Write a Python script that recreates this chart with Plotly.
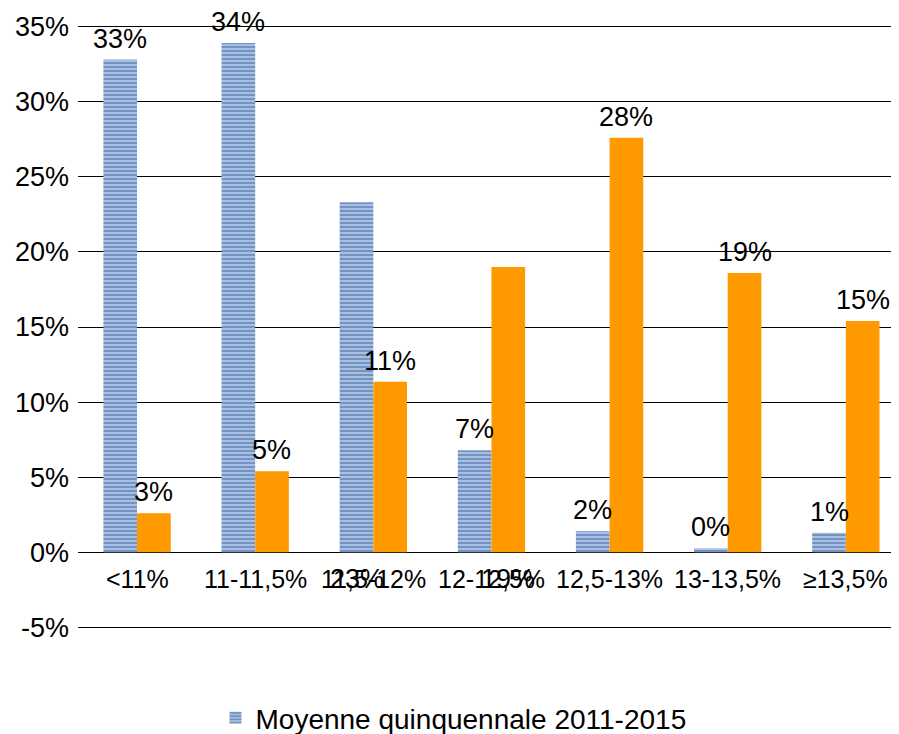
import plotly.graph_objects as go

categories = ["<11%", "11-11,5%", "11,5-12%", "12-12,5%", "12,5-13%", "13-13,5%", "≥13,5%"]
moyenne = [32.8, 33.9, 23.3, 6.8, 1.4, 0.27, 1.3]
recent = [2.6, 5.4, 11.35, 19.0, 27.6, 18.6, 15.4]
moyenne_labels = ["33%", "34%", "23%", "7%", "2%", "0%", "1%"]
recent_labels = ["3%", "5%", "11%", "19%", "28%", "19%", "15%"]
# labels that Excel dropped under the axis
moyenne_below = [False, False, True, False, False, False, False]
recent_below = [False, False, False, True, False, False, False]
y_ticks = [-5, 0, 5, 10, 15, 20, 25, 30, 35]
y_ticktext = ["-5%", "0%", "5%", "10%", "15%", "20%", "25%", "30%", "35%"]

FONT = "Liberation Sans, Arial, sans-serif"
BAR_HALF = 16.8

fig = go.Figure()
fig.add_trace(go.Bar(
    x=categories, y=moyenne, name="Moyenne quinquennale 2011-2015",
    marker=dict(color="#A9BFE0", line=dict(width=0),
                pattern=dict(shape="-", fgcolor="#3F68AA", bgcolor="#A9BFE0",
                             size=4, solidity=0.5)),
))
fig.add_trace(go.Bar(
    x=categories, y=recent, name="recent", showlegend=False,
    marker=dict(color="#FF9900", line=dict(width=0)),
))

annotations = []
for serie, labels, below, shift in [(moyenne, moyenne_labels, moyenne_below, -BAR_HALF),
                                    (recent, recent_labels, recent_below, BAR_HALF)]:
    for c, v, t, b in zip(categories, serie, labels, below):
        if b:
            annotations.append(dict(x=c, y=0, text=t, showarrow=False, xshift=shift,
                                    yanchor="top", yshift=-10, font=dict(size=27)))
        else:
            annotations.append(dict(x=c, y=v, text=t, showarrow=False, xshift=shift,
                                    yanchor="bottom", yshift=4, font=dict(size=27)))

# category labels sit on the zero line, not at the bottom of the plot
for c in categories:
    annotations.append(dict(x=c, y=0, text=c, showarrow=False, yanchor="top",
                            yshift=-11, font=dict(size=25)))

# page body has an 8px margin, so the figure is a bit smaller than the window
fig.update_layout(
    width=891, height=726,
    margin=dict(l=70, r=0, t=17, b=105, autoexpand=False),
    paper_bgcolor="white", plot_bgcolor="white",
    font=dict(family=FONT, color="black"),
    barmode="group", bargap=0.43, bargroupgap=0,
    annotations=annotations,
    showlegend=True,
    legend=dict(orientation="h", xref="container", x=0.5, xanchor="center",
                yref="container", y=0.022, yanchor="middle", font=dict(size=28),
                itemwidth=30),
    # the plot area runs past the right edge of the picture
    xaxis=dict(range=[-0.5, 6.45], showticklabels=False, showgrid=False,
               zeroline=False, showline=False, ticks="", automargin=False),
    yaxis=dict(range=[-5.1, 35.1], tickvals=y_ticks, ticktext=y_ticktext,
               showgrid=True, gridcolor="black", gridwidth=1, zeroline=True,
               zerolinecolor="black", zerolinewidth=1, showline=False,
               tickfont=dict(size=27), ticklabelstandoff=8, automargin=False),
)

fig.write_html("out.html")
